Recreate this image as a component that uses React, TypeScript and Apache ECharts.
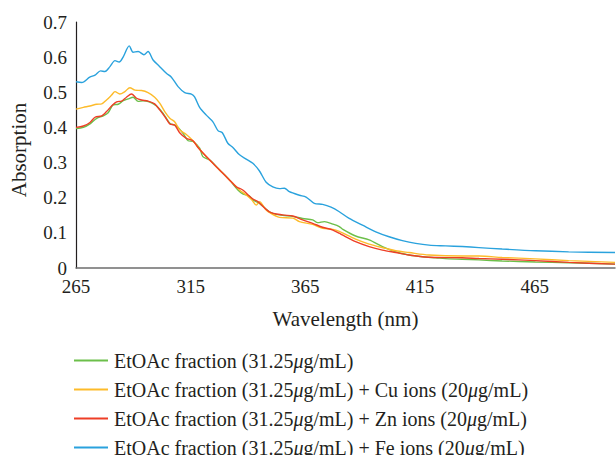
import React, { useEffect, useRef } from "react";
import * as echarts from "echarts";

const xTickLabels = [265, 315, 365, 415, 465];
const yTickLabels = ["0", "0.1", "0.2", "0.3", "0.4", "0.5", "0.6", "0.7"];

const seriesNames = [
  "EtOAc fraction (31.25{i|μ}g/mL)",
  "EtOAc fraction (31.25{i|μ}g/mL) + Cu ions (20{i|μ}g/mL)",
  "EtOAc fraction (31.25{i|μ}g/mL) + Zn ions (20{i|μ}g/mL)",
  "EtOAc fraction (31.25{i|μ}g/mL) + Fe ions (20{i|μ}g/mL)",
];
const seriesColors = ["#6cbf4a", "#fdbb2a", "#ee3e26", "#2aa2dd"];

const extractData: [number, number][] = [
  [265, 0.397], [268.2, 0.4], [271.1, 0.41], [274, 0.426], [276.9, 0.433], [279, 0.442],
  [281.2, 0.464], [283.4, 0.466], [285.6, 0.476], [287.7, 0.481], [289.9, 0.486], [292.1, 0.474],
  [294.3, 0.476], [297.2, 0.472], [300.1, 0.461], [303, 0.44], [305.9, 0.412], [308.8, 0.404],
  [311.7, 0.383], [313.9, 0.362], [316, 0.36], [318.9, 0.341], [320.3, 0.317], [323.3, 0.307],
  [327.6, 0.279], [332, 0.25], [335.6, 0.222], [337.7, 0.211], [340.5, 0.205], [342.1, 0.194],
  [345, 0.184], [349.3, 0.16], [353.7, 0.151], [359.5, 0.147], [363.8, 0.141], [368.2, 0.137],
  [370.4, 0.129], [373.3, 0.132], [377, 0.125], [379.8, 0.118], [381.1, 0.111], [386.9, 0.091],
  [392.8, 0.08], [398.6, 0.061], [404.4, 0.046], [410.2, 0.037], [416, 0.032], [421.8, 0.029],
  [427.6, 0.026], [433.4, 0.025], [440.7, 0.023], [450.8, 0.02], [465.3, 0.017], [479.8, 0.015],
  [500, 0.011],
];

const cuData: [number, number][] = [
  [265, 0.452], [268.2, 0.457], [271.1, 0.461], [274, 0.466], [276.2, 0.467], [278.3, 0.478],
  [280.5, 0.492], [282, 0.502], [284.1, 0.495], [286.3, 0.502], [288.5, 0.513], [290.7, 0.506],
  [293.6, 0.505], [296.4, 0.499], [299.3, 0.486], [301.5, 0.469], [303.7, 0.445], [305.9, 0.426],
  [308, 0.416], [310.2, 0.393], [313.1, 0.38], [316, 0.362], [318.9, 0.338], [323.3, 0.307],
  [327.6, 0.279], [332, 0.25], [333.4, 0.241], [336.3, 0.222], [339.2, 0.208], [341.5, 0.195],
  [343.6, 0.179], [345, 0.189], [347.5, 0.168], [349.3, 0.158], [353.7, 0.144], [359.5, 0.142],
  [362.4, 0.132], [368.2, 0.124], [372.5, 0.113], [377, 0.11], [379.8, 0.104], [386.9, 0.082],
  [392.8, 0.068], [400, 0.056], [404.4, 0.049], [410.2, 0.044], [418.9, 0.037], [433.4, 0.034],
  [440.7, 0.034], [450.8, 0.03], [465.3, 0.026], [479.8, 0.021], [500, 0.016],
];

const znData: [number, number][] = [
  [265, 0.4], [268.2, 0.404], [271.1, 0.414], [273.3, 0.429], [276.2, 0.433], [278.3, 0.445],
  [280.5, 0.461], [282.7, 0.473], [284.9, 0.475], [287, 0.486], [289.2, 0.495], [291.4, 0.483],
  [293.6, 0.478], [296.4, 0.475], [299.3, 0.467], [301.5, 0.45], [303.7, 0.431], [305.9, 0.41],
  [308, 0.407], [310.2, 0.385], [313.1, 0.369], [316, 0.362], [318.2, 0.343], [321.8, 0.317],
  [327.6, 0.279], [332, 0.25], [334.9, 0.231], [337.7, 0.222], [340.5, 0.205], [342.5, 0.195],
  [344.3, 0.189], [349.3, 0.16], [355.1, 0.151], [359.5, 0.148], [363.8, 0.137], [368.2, 0.127],
  [372.5, 0.116], [377, 0.108], [379.8, 0.099], [381.1, 0.094], [386.9, 0.075], [392.8, 0.061],
  [398.6, 0.051], [404.4, 0.044], [410.2, 0.037], [416, 0.032], [421.8, 0.03], [433.4, 0.029],
  [440.7, 0.027], [450.8, 0.025], [465.3, 0.021], [479.8, 0.016], [500, 0.011],
];

const feData: [number, number][] = [
  [265, 0.53], [267.5, 0.528], [271, 0.543], [273.3, 0.549], [275.7, 0.561], [277.6, 0.559],
  [279.8, 0.573], [282, 0.59], [283.8, 0.586], [285.6, 0.601], [288.2, 0.632], [289.9, 0.614],
  [292.1, 0.616], [294.6, 0.607], [296.4, 0.616], [298.6, 0.592], [301.5, 0.573], [304.4, 0.554],
  [306.6, 0.543], [309.5, 0.516], [312.4, 0.499], [315.3, 0.495], [316.7, 0.487], [318.9, 0.457],
  [321.8, 0.435], [324.7, 0.416], [326.9, 0.391], [328.8, 0.385], [331.2, 0.355], [333.4, 0.343],
  [336.3, 0.322], [339.2, 0.31], [342.1, 0.298], [345, 0.276], [347.9, 0.244], [350.8, 0.231],
  [353.7, 0.226], [355.9, 0.227], [358, 0.217], [362.4, 0.207], [365.3, 0.202], [368.9, 0.184],
  [372.5, 0.181], [376.2, 0.173], [379.8, 0.16], [384.1, 0.141], [389.9, 0.122], [395.7, 0.103],
  [401.5, 0.089], [407.3, 0.078], [413.1, 0.07], [418.9, 0.065], [426.2, 0.063], [433.4, 0.061],
  [440.7, 0.058], [450.8, 0.054], [465.3, 0.049], [479.8, 0.046], [500, 0.044],
];

const allData = [extractData, cuData, znData, feData];

const FONT = "Liberation Serif";
const TEXT = "#231f20";

export default function App() {
  const ref = useRef<HTMLDivElement>(null);
  useEffect(() => {
    if (!ref.current) return;
    const chart = echarts.init(ref.current, undefined, { renderer: "svg" });
    chart.setOption({
      animation: false,
      backgroundColor: "#ffffff",
      grid: { left: 76, right: 1, top: 22, bottom: 187, containLabel: false },
      xAxis: {
        type: "value",
        min: 265,
        max: 500,
        name: "Wavelength (nm)",
        nameLocation: "middle",
        nameGap: 40,
        nameTextStyle: { fontFamily: FONT, fontSize: 21, color: TEXT },
        axisLine: { show: true, lineStyle: { color: "#6e6e6e", width: 1.5 } },
        axisTick: { show: false },
        splitLine: { show: false },
        axisLabel: {
          customValues: xTickLabels,
          fontFamily: FONT,
          fontSize: 19,
          color: TEXT,
          margin: 9,
          formatter: (v: number) => String(v),
        },
      },
      yAxis: {
        type: "value",
        min: 0,
        max: 0.7,
        interval: 0.1,
        name: "Absorption",
        nameLocation: "middle",
        nameGap: 47,
        nameTextStyle: { fontFamily: FONT, fontSize: 21, color: TEXT, padding: [0, 10, 0, 0] },
        axisLine: { show: true, lineStyle: { color: "#231f20", width: 1.2 } },
        axisTick: { show: false },
        splitLine: { show: false },
        axisLabel: {
          fontFamily: FONT,
          fontSize: 19,
          color: TEXT,
          margin: 9,
          formatter: (v: number) => yTickLabels[Math.round(v * 10)] ?? String(v),
        },
      },
      legend: {
        orient: "vertical",
        left: 74,
        top: 350,
        height: 200,
        padding: 0,
        icon: "rect",
        itemWidth: 34,
        itemHeight: 2,
        itemGap: 8,
        data: seriesNames,
        textStyle: {
          fontFamily: FONT,
          fontSize: 20,
          lineHeight: 21,
          color: TEXT,
          padding: [0, 0, 0, 1],
          rich: {
            i: { fontFamily: FONT, fontSize: 20, lineHeight: 21, fontStyle: "italic", color: TEXT },
          },
        },
      },
      series: allData.map((d, i) => ({
        type: "line",
        name: seriesNames[i],
        data: d,
        symbol: "none",
        smooth: 0.3,
        lineStyle: { color: seriesColors[i], width: 1.4 },
        itemStyle: { color: seriesColors[i] },
      })),
    });
    return () => chart.dispose();
  }, []);
  return (
    <div
      ref={ref}
      style={{ position: "fixed", left: 0, top: 0, width: 616, height: 455 }}
    />
  );
}
